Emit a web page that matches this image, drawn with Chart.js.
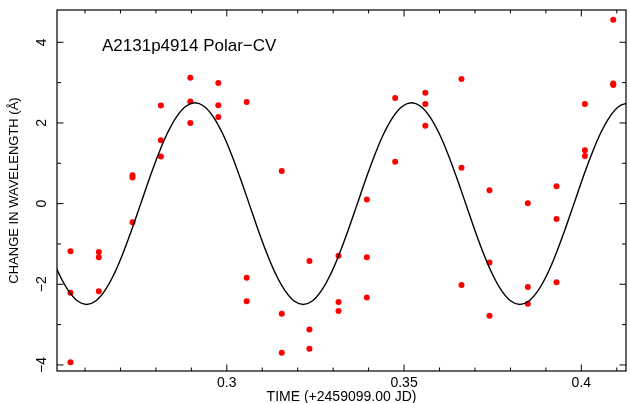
<!DOCTYPE html>
<html><head><meta charset="utf-8">
<script src="https://cdn.jsdelivr.net/npm/chart.js@4/dist/chart.umd.min.js"></script>
<style>html,body{margin:0;padding:0;background:#fff}#wrap{width:630px;height:403px;position:relative}</style>
</head><body><div id="wrap"><canvas id="c"></canvas></div>
<script>
const chartTitle = 'A2131p4914 Polar\u2212CV';
const xAxisTitle = 'TIME (+2459099.00 JD)';
const yAxisTitle = 'CHANGE IN WAVELENGTH (\u00C5)';

// observed radial-velocity points (time, wavelength shift)
const obsTime = [
  0.2559, 0.2559, 0.2559,
  0.2639, 0.2639, 0.2639,
  0.2734, 0.2734, 0.2734,
  0.2814, 0.2814, 0.2814,
  0.2897, 0.2897, 0.2897,
  0.2976, 0.2976, 0.2976,
  0.3056, 0.3056, 0.3056,
  0.3155, 0.3155, 0.3155,
  0.3233, 0.3233, 0.3233,
  0.3315, 0.3315, 0.3315,
  0.3395, 0.3395, 0.3395,
  0.3475, 0.3475,
  0.3560, 0.3560, 0.3560,
  0.3662, 0.3662, 0.3662,
  0.3741, 0.3741, 0.3741,
  0.3849, 0.3849, 0.3849,
  0.3930, 0.3930, 0.3930,
  0.4010, 0.4010, 0.4010,
  0.4090, 0.4090, 0.4090
];
const obsShift = [
  -1.18, -2.21, -3.93,
  -1.20, -1.33, -2.17,
  0.70, 0.65, -0.46,
  2.43, 1.57, 1.17,
  3.12, 2.53, 2.00,
  2.99, 2.44, 2.15,
  2.52, -1.84, -2.42,
  0.81, -2.73, -3.70,
  -1.42, -3.12, -3.60,
  -1.29, -2.44, -2.66,
  0.10, -1.33, -2.33,
  2.62, 1.04,
  2.75, 2.47, 1.93,
  3.09, 0.89, -2.02,
  0.33, -1.46, -2.78,
  0.01, -2.07, -2.48,
  0.43, -0.38, -1.95,
  2.47, 1.32, 1.18,
  4.56, 2.98, 2.94
];

// fitted curve
const fitTime = [
  0.25027, 0.25281, 0.25536, 0.25790, 0.26045, 0.26300, 0.26554, 0.26809,
  0.27063, 0.27318, 0.27573, 0.27827, 0.28082, 0.28336, 0.28591, 0.28845,
  0.29100, 0.29355, 0.29609, 0.29864, 0.30118, 0.30373, 0.30628, 0.30882,
  0.31137, 0.31391, 0.31646, 0.31900, 0.32155, 0.32410, 0.32664, 0.32919,
  0.33173, 0.33428, 0.33683, 0.33937, 0.34192, 0.34446, 0.34701, 0.34955,
  0.35210, 0.35465, 0.35719, 0.35974, 0.36228, 0.36483, 0.36738, 0.36992,
  0.37247, 0.37501, 0.37756, 0.38010, 0.38265, 0.38520, 0.38774, 0.39029,
  0.39283, 0.39538, 0.39793, 0.40047, 0.40302, 0.40556, 0.40811, 0.41065,
  0.41320
];
const fitShift = [
  -1.250, -1.768, -2.165, -2.415, -2.500, -2.415, -2.165, -1.768,
  -1.250, -0.647, 0.000, 0.647, 1.250, 1.768, 2.165, 2.415,
  2.500, 2.415, 2.165, 1.768, 1.250, 0.647, 0.000, -0.647,
  -1.250, -1.768, -2.165, -2.415, -2.500, -2.415, -2.165, -1.768,
  -1.250, -0.647, 0.000, 0.647, 1.250, 1.768, 2.165, 2.415,
  2.500, 2.415, 2.165, 1.768, 1.250, 0.647, 0.000, -0.647,
  -1.250, -1.768, -2.165, -2.415, -2.500, -2.415, -2.165, -1.768,
  -1.250, -0.647, 0.000, 0.647, 1.250, 1.768, 2.165, 2.415,
  2.500
];

const xMajorTicks = [0.3, 0.35, 0.4];
const xTickLabels = ['0.3', '0.35', '0.4'];
const xMinorTicks = [0.26, 0.27, 0.28, 0.29, 0.31, 0.32, 0.33, 0.34, 0.36, 0.37, 0.38, 0.39, 0.41];
const yMajorTicks = [-4, -2, 0, 2, 4];
const yTickLabels = ['\u22124', '\u22122', '0', '2', '4'];
const yMinorTicks = [-3, -1, 1, 3];

const FONT = "'Liberation Sans', Arial, Helvetica, sans-serif";

const framePlugin = {
  id: 'frame',
  afterDraw(chart) {
    const ctx = chart.ctx;
    const xs = chart.scales.x, ys = chart.scales.y;
    const a = chart.chartArea;
    ctx.save();
    ctx.strokeStyle = '#000';
    ctx.lineWidth = 1.2;
    ctx.strokeRect(a.left, a.top, a.right - a.left, a.bottom - a.top);
    ctx.lineWidth = 1;
    ctx.beginPath();
    const tickX = (vals, len) => vals.forEach(v => {
      const p = xs.getPixelForValue(v);
      ctx.moveTo(p, a.bottom); ctx.lineTo(p, a.bottom - len);
      ctx.moveTo(p, a.top); ctx.lineTo(p, a.top + len);
    });
    const tickY = (vals, len) => vals.forEach(v => {
      const p = ys.getPixelForValue(v);
      ctx.moveTo(a.left, p); ctx.lineTo(a.left + len, p);
      ctx.moveTo(a.right, p); ctx.lineTo(a.right - len, p);
    });
    tickX(xMajorTicks, 6.5); tickX(xMinorTicks, 3.5);
    tickY(yMajorTicks, 6.5); tickY(yMinorTicks, 4);
    ctx.stroke();
    // rotated y tick labels
    ctx.fillStyle = '#000';
    ctx.font = '14px ' + FONT;
    ctx.textAlign = 'center';
    ctx.textBaseline = 'middle';
    yMajorTicks.forEach((v, i) => {
      const p = ys.getPixelForValue(v);
      ctx.save();
      ctx.translate(a.left - 15, p);
      ctx.rotate(-Math.PI / 2);
      ctx.fillText(yTickLabels[i], 0, 0);
      ctx.restore();
    });
    // title inside the plot
    ctx.font = '17px ' + FONT;
    ctx.textAlign = 'left';
    ctx.textBaseline = 'middle';
    ctx.fillText(chartTitle, a.left + 45, a.top + 36);
    ctx.restore();
  }
};

new Chart(document.getElementById('c'), {
  type: 'scatter',
  data: {
    datasets: [
      {
        type: 'line',
        data: fitTime.map((t, i) => ({ x: t, y: fitShift[i] })),
        borderColor: '#000',
        borderWidth: 1.4,
        pointRadius: 0,
        tension: 0.4,
        fill: false,
        showLine: true
      },
      {
        data: obsTime.map((t, i) => ({ x: t, y: obsShift[i] })),
        backgroundColor: '#ff0000',
        borderColor: '#ff0000',
        borderWidth: 0,
        pointRadius: 3,
        showLine: false
      }
    ]
  },
  options: {
    responsive: true,
    maintainAspectRatio: false,
    animation: false,
    devicePixelRatio: 1,
    layout: { padding: { top: 10, right: 2, bottom: 0, left: 0 } },
    plugins: { legend: { display: false }, tooltip: { enabled: false }, title: { display: false } },
    scales: {
      x: {
        type: 'linear', position: 'bottom',
        min: 0.2521, max: 0.4126,
        grid: { display: false, drawTicks: false },
        border: { display: false },
        afterBuildTicks: s => { s.ticks = xMajorTicks.map(v => ({ value: v })); },
        afterFit: s => { s.height = 32; },
        ticks: {
          autoSkip: false, maxRotation: 0, padding: 4, color: '#000',
          font: { family: FONT, size: 14 },
          callback: v => { const i = xMajorTicks.indexOf(v); return i >= 0 ? xTickLabels[i] : ''; }
        },
        title: { display: true, text: xAxisTitle, color: '#000', font: { family: FONT, size: 14, lineHeight: 1 }, padding: { top: 0, bottom: -1 } }
      },
      y: {
        type: 'linear', position: 'left',
        min: -4.15, max: 4.8,
        grid: { display: false, drawTicks: false },
        border: { display: false },
        afterBuildTicks: s => { s.ticks = yMajorTicks.map(v => ({ value: v })); },
        afterFit: s => { s.width = 57; },
        ticks: { display: false },
        title: { display: true, text: yAxisTitle, color: '#000', font: { family: FONT, size: 13 }, padding: { top: 7, bottom: 0 } }
      }
    }
  },
  plugins: [framePlugin]
});
</script>
</body></html>
